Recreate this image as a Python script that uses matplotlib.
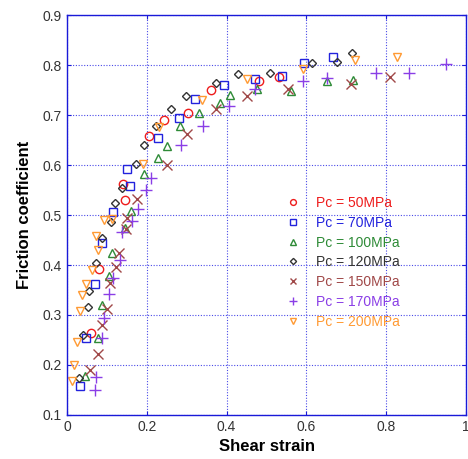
import matplotlib.pyplot as plt

plt.rcParams["font.family"] = ["Liberation Sans", "DejaVu Sans"]

labels = ["Pc = 50MPa", "Pc = 70MPa", "Pc = 100MPa", "Pc = 120MPa",
          "Pc = 150MPa", "Pc = 170MPa", "Pc = 200MPa"]

x_50 = [0.06, 0.08, 0.145, 0.141, 0.206, 0.243, 0.304, 0.36, 0.48, 0.531]
y_50 = [0.263, 0.393, 0.53, 0.562, 0.659, 0.69, 0.705, 0.75, 0.768, 0.777]

x_70 = [0.034, 0.048, 0.07, 0.089, 0.116, 0.158, 0.15, 0.229, 0.281, 0.322,
        0.394, 0.471, 0.54, 0.595, 0.667]
y_70 = [0.158, 0.253, 0.362, 0.445, 0.507, 0.559, 0.592, 0.655, 0.695, 0.732,
        0.761, 0.772, 0.778, 0.805, 0.817]

x_100 = [0.045, 0.077, 0.087, 0.105, 0.114, 0.145, 0.16, 0.193, 0.227, 0.251,
         0.283, 0.331, 0.383, 0.409, 0.475, 0.561, 0.652, 0.716]
y_100 = [0.178, 0.253, 0.32, 0.378, 0.425, 0.475, 0.508, 0.583, 0.614, 0.639,
         0.678, 0.705, 0.725, 0.741, 0.752, 0.749, 0.769, 0.771]

x_120 = [0.031, 0.041, 0.053, 0.056, 0.074, 0.087, 0.11, 0.12, 0.139, 0.173,
         0.193, 0.222, 0.26, 0.298, 0.373, 0.429, 0.509, 0.615, 0.676, 0.714]
y_120 = [0.173, 0.26, 0.315, 0.348, 0.405, 0.455, 0.487, 0.525, 0.555, 0.602,
         0.64, 0.678, 0.712, 0.739, 0.765, 0.783, 0.785, 0.805, 0.807, 0.825]

x_150 = [0.059, 0.078, 0.087, 0.1, 0.108, 0.123, 0.131, 0.147, 0.15, 0.175,
         0.25, 0.3, 0.373, 0.45, 0.555, 0.712, 0.81]
y_150 = [0.189, 0.221, 0.279, 0.312, 0.365, 0.397, 0.425, 0.473, 0.495, 0.532,
         0.6, 0.663, 0.712, 0.738, 0.752, 0.762, 0.777]

x_170 = [0.07, 0.073, 0.089, 0.093, 0.105, 0.116, 0.134, 0.137, 0.162, 0.177,
         0.197, 0.21, 0.287, 0.34, 0.407, 0.471, 0.591, 0.652, 0.774, 0.858, 0.95]
y_170 = [0.149, 0.175, 0.253, 0.293, 0.342, 0.375, 0.41, 0.467, 0.488, 0.512,
         0.55, 0.575, 0.641, 0.678, 0.719, 0.752, 0.768, 0.775, 0.785, 0.785, 0.803]

x_200 = [0.013, 0.018, 0.026, 0.034, 0.039, 0.049, 0.063, 0.077, 0.074, 0.094,
         0.112, 0.19, 0.231, 0.338, 0.45, 0.591, 0.722, 0.826]
y_200 = [0.167, 0.2, 0.245, 0.307, 0.339, 0.363, 0.391, 0.43, 0.458, 0.491,
         0.493, 0.603, 0.677, 0.731, 0.772, 0.793, 0.81, 0.817]

series = [(x_50, y_50), (x_70, y_70), (x_100, y_100), (x_120, y_120),
          (x_150, y_150), (x_170, y_170), (x_200, y_200)]
markers = ["o", "s", "^", "D", "x", "+", "v"]
sizes = [6, 6, 6, 4.5, 7, 8, 6]
colors = ["#ee1c1c", "#2222dd", "#2e8b37", "#333333", "#a04848", "#8a3ee6", "#ff9a33"]

fig = plt.figure(figsize=(4.68, 4.59), dpi=100)
ax = fig.add_axes([0.143, 0.096, 0.853, 0.871])

for (xs, ys), m, s, c, lab in zip(series, markers, sizes, colors, labels):
    ax.plot(xs, ys, linestyle="none", marker=m, markersize=s, color=c,
            mfc="none", mec=c, mew=1.0, label=lab)

ax.set_xlim(0, 1)
ax.set_ylim(0.1, 0.9)
ax.set_xticks([0, 0.2, 0.4, 0.6, 0.8, 1])
ax.set_xticklabels(["0", "0.2", "0.4", "0.6", "0.8", "1"])
ax.set_yticks([0.1, 0.2, 0.3, 0.4, 0.5, 0.6, 0.7, 0.8, 0.9])
ax.grid(True, color="#4a4ae8", linestyle=(0, (1, 1.5)), linewidth=0.8)
for sp in ax.spines.values():
    sp.set_color("#1a1ad8")
    sp.set_linewidth(1.0)
ax.tick_params(direction="in", length=3, colors="#1a1ad8", labelcolor="#333333",
               labelsize=10, top=True, right=True)

ax.set_xlabel("Shear strain", fontsize=12, fontweight="bold", labelpad=4)
ax.set_ylabel("Friction coefficient", fontsize=12, fontweight="bold", labelpad=8)

leg = ax.legend(loc="upper left", bbox_to_anchor=(0.548, 0.548), frameon=False,
                fontsize=10, handlelength=1.0, handletextpad=1.15,
                labelspacing=0.42, borderpad=0, borderaxespad=0,
                markerscale=0.7, labelcolor="linecolor")

fig.savefig("out.png", dpi=100)
